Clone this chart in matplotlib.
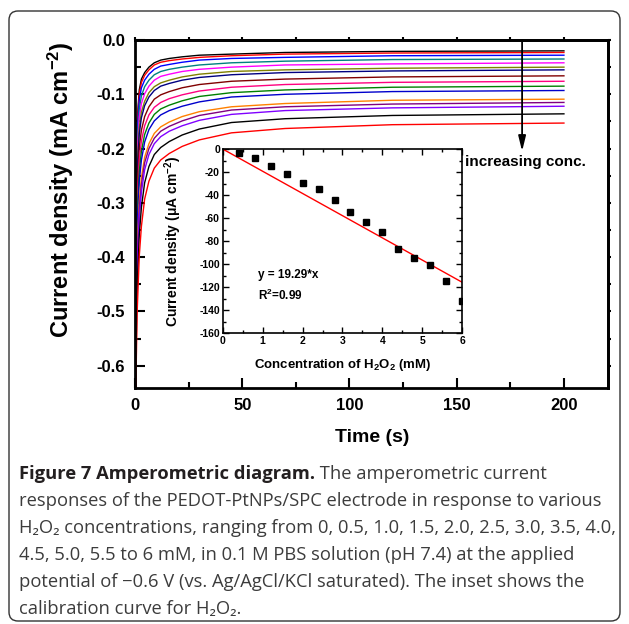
import numpy as np
import matplotlib
matplotlib.use('Agg')
import matplotlib.pyplot as plt
from matplotlib.patches import FancyBboxPatch
from matplotlib.ticker import MultipleLocator

# Amperometric traces (time in s, current in mA cm-2)
time_s = [0.3, 0.6, 1, 2, 3, 4.5, 6.5, 9, 12, 16, 22, 30, 45, 70, 120, 200]
curves = [
    [-0.600, -0.300, -0.150, -0.092, -0.072, -0.060, -0.050, -0.042, -0.037, -0.034, -0.031, -0.028, -0.026, -0.023, -0.021, -0.020],
    [-0.602, -0.307, -0.158, -0.099, -0.078, -0.065, -0.055, -0.046, -0.041, -0.038, -0.035, -0.032, -0.029, -0.026, -0.024, -0.023],
    [-0.606, -0.318, -0.171, -0.110, -0.088, -0.074, -0.063, -0.054, -0.048, -0.045, -0.041, -0.037, -0.034, -0.032, -0.029, -0.028],
    [-0.612, -0.333, -0.190, -0.127, -0.103, -0.086, -0.074, -0.064, -0.058, -0.054, -0.050, -0.046, -0.042, -0.039, -0.036, -0.035],
    [-0.617, -0.348, -0.208, -0.143, -0.117, -0.099, -0.085, -0.074, -0.067, -0.063, -0.058, -0.054, -0.050, -0.046, -0.044, -0.042],
    [-0.623, -0.366, -0.230, -0.161, -0.133, -0.113, -0.097, -0.086, -0.079, -0.074, -0.068, -0.063, -0.058, -0.055, -0.052, -0.050],
    [-0.627, -0.377, -0.243, -0.173, -0.143, -0.121, -0.105, -0.093, -0.085, -0.080, -0.074, -0.069, -0.064, -0.060, -0.057, -0.055],
    [-0.636, -0.401, -0.272, -0.198, -0.166, -0.141, -0.123, -0.109, -0.101, -0.095, -0.088, -0.082, -0.076, -0.072, -0.068, -0.066],
    [-0.643, -0.423, -0.299, -0.221, -0.186, -0.158, -0.138, -0.124, -0.115, -0.108, -0.101, -0.094, -0.087, -0.082, -0.078, -0.076],
    [-0.650, -0.443, -0.323, -0.242, -0.205, -0.174, -0.153, -0.137, -0.127, -0.120, -0.112, -0.104, -0.097, -0.092, -0.087, -0.085],
    [-0.657, -0.461, -0.344, -0.260, -0.221, -0.188, -0.165, -0.149, -0.138, -0.130, -0.122, -0.114, -0.105, -0.100, -0.095, -0.093],
    [-0.669, -0.496, -0.386, -0.297, -0.253, -0.216, -0.191, -0.172, -0.160, -0.151, -0.141, -0.132, -0.123, -0.117, -0.111, -0.109],
    [-0.674, -0.509, -0.402, -0.311, -0.266, -0.226, -0.200, -0.181, -0.168, -0.159, -0.149, -0.139, -0.129, -0.123, -0.118, -0.115],
    [-0.679, -0.525, -0.421, -0.327, -0.280, -0.239, -0.211, -0.191, -0.178, -0.168, -0.158, -0.148, -0.137, -0.130, -0.125, -0.122],
    [-0.690, -0.556, -0.458, -0.359, -0.308, -0.263, -0.233, -0.211, -0.198, -0.187, -0.175, -0.164, -0.152, -0.145, -0.139, -0.136],
    [-0.703, -0.593, -0.503, -0.398, -0.343, -0.293, -0.260, -0.236, -0.221, -0.209, -0.196, -0.184, -0.171, -0.163, -0.156, -0.153],
]
curve_colors = ['#000000', '#ff0000', '#0000ff', '#008080', '#ff00ff', '#808000',
                '#000080', '#800000', '#ff0080', '#008000', '#0000cc', '#ff8000',
                '#800080', '#8000ff', '#000000', '#ff0000']

# Inset calibration data (mM, uA cm-2)
inset_conc = [0.4, 0.8, 1.2, 1.6, 2.0, 2.4, 2.8, 3.2, 3.6, 4.0, 4.4, 4.8, 5.2, 5.6, 6.0]
inset_current = [-3.8, -7.5, -14.5, -22.0, -29.8, -35.0, -44.3, -54.7, -63.7, -72.4,
                 -87.1, -94.6, -100.4, -114.9, -132.3]
fit_slope = 19.29

caption_lines = [
    "responses of the PEDOT-PtNPs/SPC electrode in response to various",
    "H\u2082O\u2082 concentrations, ranging from 0, 0.5, 1.0, 1.5, 2.0, 2.5, 3.0, 3.5, 4.0,",
    "4.5, 5.0, 5.5 to 6 mM, in 0.1 M PBS solution (pH 7.4) at the applied",
    "potential of \u22120.6 V (vs. Ag/AgCl/KCl saturated). The inset shows the",
    "calibration curve for H\u2082O\u2082.",
]

plt.rcParams['font.family'] = 'Liberation Sans'
plt.rcParams['font.weight'] = 'bold'
plt.rcParams['axes.labelweight'] = 'bold'
plt.rcParams['mathtext.fontset'] = 'custom'
plt.rcParams['mathtext.rm'] = 'Liberation Sans:bold'
plt.rcParams['mathtext.default'] = 'rm'
plt.rcParams['axes.unicode_minus'] = False

fig = plt.figure(figsize=(6.29, 6.24), dpi=100)

# background: rounded frame and caption, in pixel coordinates
bg = fig.add_axes([0, 0, 1, 1])
bg.set_xlim(0, 629)
bg.set_ylim(624, 0)
bg.axis('off')
bg.add_patch(FancyBboxPatch((9, 11), 611, 610, boxstyle='round,pad=0,rounding_size=9',
                            fc='none', ec='#333333', lw=1.0))

cap_font = ['Open Sans', 'DejaVu Sans']
cap_size = 13.2
head = bg.text(19, 474, 'Figure 7 Amperometric diagram.', family=cap_font,
               fontweight='bold', fontsize=cap_size, color='#231f20', va='center')
bg.annotate(' The amperometric current', xy=(1, 0), xycoords=head, va='bottom',
            family=cap_font, fontweight='normal', fontsize=cap_size, color='#3c3c3c')
for i, line in enumerate(caption_lines):
    bg.text(19, 501 + 27 * i, line, family=cap_font, fontweight='normal',
            fontsize=cap_size, color='#3c3c3c', va='center')

# main amperometric plot
ax = fig.add_axes([0.2146, 0.3782, 0.7515, 0.5577])
for curve, c in zip(curves, curve_colors):
    ax.plot(time_s, curve, color=c, lw=1.0)
ax.set_xlim(0, 220.4)
ax.set_ylim(-0.641, 0)
ax.set_xticks([0, 50, 100, 150, 200])
ax.set_yticks([0.0, -0.1, -0.2, -0.3, -0.4, -0.5, -0.6])
ax.set_yticklabels(['0.0', '-0.1', '-0.2', '-0.3', '-0.4', '-0.5', '-0.6'])
ax.xaxis.set_minor_locator(MultipleLocator(25))
ax.yaxis.set_minor_locator(MultipleLocator(0.05))
ax.tick_params(which='both', direction='in', width=1.5, labelsize=12, pad=7)
ax.tick_params(which='major', length=7)
ax.tick_params(which='minor', length=4)
for sp in ax.spines.values():
    sp.set_linewidth(2)
ax.set_xlabel('Time (s)', fontsize=14, fontweight='bold')
ax.set_ylabel('Current density (mA cm$^{-2}$)', fontsize=17, fontweight='bold')
ax.xaxis.set_label_coords(0.501, -0.118)
ax.yaxis.set_label_coords(-0.125, 0.57)

top = ax.secondary_xaxis('top')
top.set_xticks(np.arange(0, 225, 25))
top.set_xticklabels([])
top.tick_params(direction='out', length=2, width=1.5)
top.spines['top'].set_linewidth(2)
right = ax.secondary_yaxis('right')
right.set_yticks(np.arange(0, -0.65, -0.05))
right.set_yticklabels([])
right.tick_params(direction='out', length=2, width=1.5)
right.spines['right'].set_linewidth(2)

ax.annotate('', xy=(180.5, -0.205), xytext=(180.5, 0),
            arrowprops=dict(arrowstyle='-|>,head_length=0.9,head_width=0.22',
                            color='black', lw=1.3, shrinkA=0, shrinkB=0))
ax.text(153.8, -0.224, 'increasing conc.', fontsize=11, va='center', ha='left')

# inset calibration curve
ins = fig.add_axes([0.354, 0.4658, 0.381, 0.2954])
fit_x = np.array([0, 6])
ins.plot(fit_x, -fit_slope * fit_x, color='red', lw=1.0)
ins.plot(inset_conc, inset_current, 's', color='black', ms=4)
ins.set_xlim(0, 6)
ins.set_ylim(-160, 0)
ins.set_xticks(range(0, 7))
ins.set_yticks(range(0, -161, -20))
ins.xaxis.set_minor_locator(MultipleLocator(0.5))
ins.yaxis.set_minor_locator(MultipleLocator(10))
ins.tick_params(which='both', direction='in', top=True, right=True, labelsize=7.5,
                width=1, pad=2)
ins.tick_params(which='major', length=4)
ins.tick_params(which='minor', length=2)
for sp in ins.spines.values():
    sp.set_linewidth(1.2)
ins.set_xlabel('Concentration of H$_2$O$_2$ (mM)', fontsize=9.5, fontweight='bold')
ins.set_ylabel('Current density (\u03bcA cm$^{-2}$)', fontsize=10, fontweight='bold')
ins.xaxis.set_label_coords(0.5, -0.13)
ins.yaxis.set_label_coords(-0.16, 0.5)
ins.text(0.88, -109.4, 'y = 19.29*x', fontsize=8.5, va='center')
ins.text(0.88, -126.7, 'R$^2$=0.99', fontsize=8.5, va='center')

fig.savefig('out.png', dpi=100)
